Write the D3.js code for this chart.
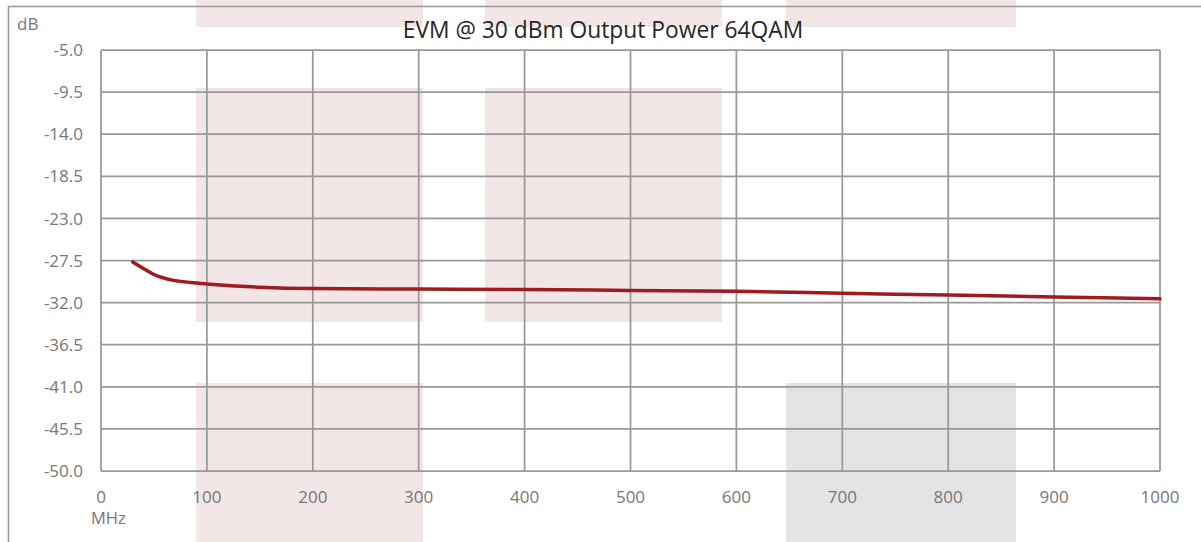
<!doctype html>
<html lang="en">
<head>
  <meta charset="utf-8">
  <title>EVM @ 30 dBm Output Power 64QAM</title>
  <script src="https://d3js.org/d3.v7.min.js" charset="utf-8"></script>
</head>
<body style="margin:0;background:#fff">
<style>
.chart text {
  font-family: "Open Sans", sans-serif;
  fill: #777;
}
.chart .title {
  fill: #262626;
}
</style>
<svg class="chart"></svg>
<script>
// measured EVM curve (MHz, dB)
var freqs = [30, 40, 50, 60, 70, 85, 100, 150, 200, 300, 400, 500, 600, 700, 800, 900, 1000];
var evm   = [-27.65, -28.35, -29.0, -29.4, -29.65, -29.85, -30.0, -30.35, -30.5, -30.55, -30.6, -30.7, -30.8, -31.0, -31.2, -31.4, -31.6];

var xTicks = [0, 100, 200, 300, 400, 500, 600, 700, 800, 900, 1000];
var yTicks = [-5.0, -9.5, -14.0, -18.5, -23.0, -27.5, -32.0, -36.5, -41.0, -45.5, -50.0];

// background blocks behind the chart
var blocks = [
  [196, 0, 227, 27, "#f3e6e7"], [196, 88, 227, 234, "#f3e6e7"], [196, 383, 227, 159, "#f3e6e7"],
  [485, 0, 237, 27, "#f3e6e7"], [485, 88, 237, 234, "#f3e6e7"],
  [786, 0, 230, 27, "#f3e6e7"], [786, 383, 230, 159, "#e4e4e4"]
];

var width = 1201, height = 542;
var plotLeft = 101, plotRight = 1160, plotTop = 50, plotBottom = 471;

var svg = d3.select(".chart")
  .attr("width", width)
  .attr("height", height);

svg.selectAll("rect.block")
  .data(blocks)
.enter().append("rect")
  .attr("class", "block")
  .attr("x", function(d) { return d[0]; })
  .attr("y", function(d) { return d[1]; })
  .attr("width", function(d) { return d[2]; })
  .attr("height", function(d) { return d[3]; })
  .attr("fill", function(d) { return d[4]; });

// outer frame
svg.append("rect")
  .attr("x", 8.5).attr("y", 6.5)
  .attr("width", 1300).attr("height", 700)
  .attr("fill", "none")
  .attr("stroke", "#999")
  .attr("stroke-width", 1.5);

var x = d3.scaleLinear().domain([0, 1000]).range([plotLeft, plotRight]);
var y = d3.scaleLinear().domain([-50, -5]).range([plotBottom, plotTop]);

// grid
svg.append("g").selectAll("line")
  .data(xTicks)
.enter().append("line")
  .attr("x1", function(d) { return x(d); })
  .attr("x2", function(d) { return x(d); })
  .attr("y1", plotTop).attr("y2", plotBottom)
  .attr("stroke", "#999").attr("stroke-width", 1.75);

svg.append("g").selectAll("line")
  .data(yTicks)
.enter().append("line")
  .attr("x1", plotLeft).attr("x2", plotRight)
  .attr("y1", function(d) { return y(d); })
  .attr("y2", function(d) { return y(d); })
  .attr("stroke", "#999").attr("stroke-width", 1.75);

// tick labels
svg.append("g").selectAll("text")
  .data(yTicks)
.enter().append("text")
  .attr("x", 83)
  .attr("y", function(d) { return y(d); })
  .attr("dy", "0.36em")
  .attr("text-anchor", "end")
  .style("font-size", "17px")
  .text(function(d) { return d.toFixed(1); });

svg.append("g").selectAll("text")
  .data(xTicks)
.enter().append("text")
  .attr("x", function(d) { return x(d); })
  .attr("y", 503)
  .attr("text-anchor", "middle")
  .style("font-size", "17px")
  .text(function(d) { return d; });

svg.append("text")
  .attr("x", 17).attr("y", 30)
  .style("font-size", "17px")
  .text("dB");

svg.append("text")
  .attr("x", 91).attr("y", 524)
  .style("font-size", "16.5px")
  .text("MHz");

svg.append("text")
  .attr("class", "title")
  .attr("x", 603).attr("y", 38)
  .attr("text-anchor", "middle")
  .style("font-size", "22.8px")
  .text("EVM @ 30 dBm Output Power 64QAM");

// curve
var line = d3.line()
  .x(function(d, i) { return x(freqs[i]); })
  .y(function(d) { return y(d); })
  .curve(d3.curveMonotoneX);

svg.append("path")
  .datum(evm)
  .attr("d", line)
  .attr("fill", "none")
  .attr("stroke", "#9e1b20")
  .attr("stroke-width", 3.5)
  .attr("stroke-linecap", "round");
</script>
</body>
</html>
